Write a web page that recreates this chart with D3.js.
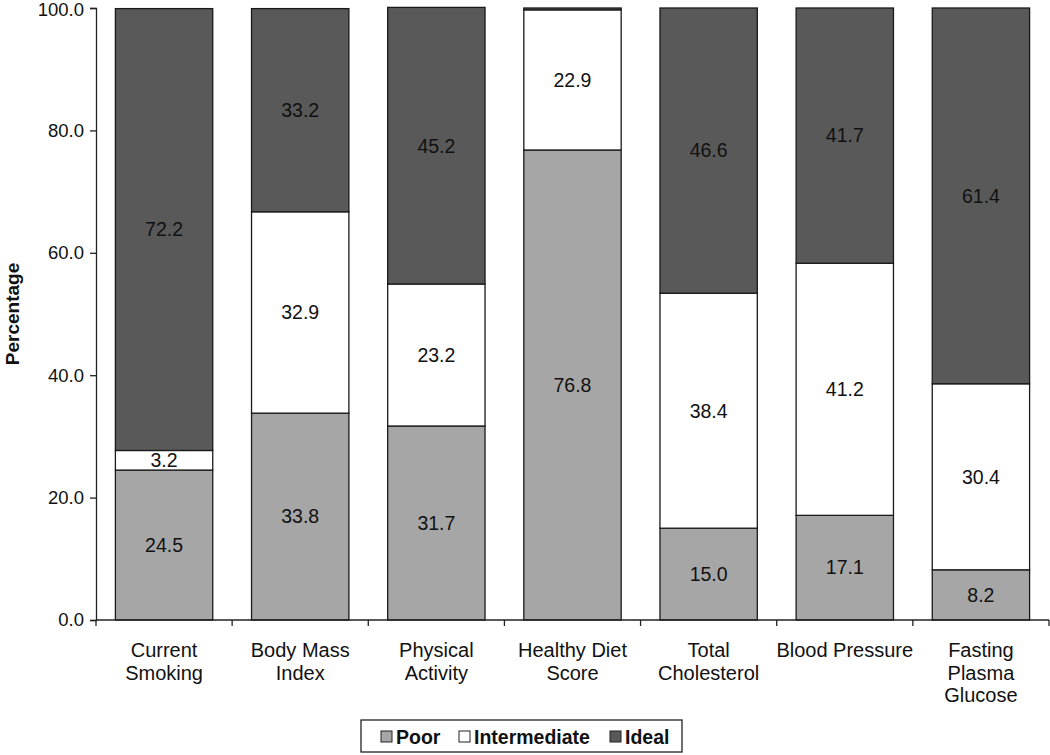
<!DOCTYPE html>
<meta charset="utf-8">
<style>
  body { margin: 0; background: #fff; }
  text { font-family: "Liberation Sans", Arial, sans-serif; }
</style>
<body>
<script src="https://d3js.org/d3.v7.min.js"></script>
<script>

var categories = [["Current", "Smoking"], ["Body Mass", "Index"], ["Physical", "Activity"],
                  ["Healthy Diet", "Score"], ["Total", "Cholesterol"], ["Blood Pressure"],
                  ["Fasting", "Plasma", "Glucose"]];
var poor         = [24.5, 33.8, 31.7, 76.8, 15.0, 17.1, 8.2];
var intermediate = [3.2, 32.9, 23.2, 22.9, 38.4, 41.2, 30.4];
var ideal        = [72.2, 33.2, 45.2, 0.3, 46.6, 41.7, 61.4];
var yTicks = [0, 20, 40, 60, 80, 100];

var series = [
  {name: "Poor", values: poor, color: "#a6a6a6"},
  {name: "Intermediate", values: intermediate, color: "#ffffff"},
  {name: "Ideal", values: ideal, color: "#595959"}
];

var width = 1050, height = 755,
    margin = {top: 8, right: 1, bottom: 135, left: 96};

var svg = d3.select("body").append("svg")
    .attr("width", width)
    .attr("height", height);

var x = d3.scaleBand()
    .domain(d3.range(categories.length))
    .range([margin.left, width - margin.right])
    .paddingInner(0.285)
    .paddingOuter(0.1425);

var y = d3.scaleLinear()
    .domain([0, 100])
    .range([height - margin.bottom, margin.top]);

// stacked bars
var rows = categories.map(function(c, i) {
  var o = {i: i};
  series.forEach(function(s) { o[s.name] = s.values[i]; });
  return o;
});
var stack = d3.stack().keys(series.map(s => s.name))(rows);

stack.forEach(function(layer, k) {
  var g = svg.append("g");
  g.selectAll("rect")
    .data(layer)
    .enter().append("rect")
      .attr("x", (d, i) => x(i))
      .attr("width", x.bandwidth())
      .attr("y", d => y(d[1]))
      .attr("height", d => y(d[0]) - y(d[1]))
      .attr("fill", series[k].color)
      .attr("stroke", "#1a1a1a")
      .attr("stroke-width", 1.3);

  g.selectAll("text")
    .data(layer.filter(d => d[1] - d[0] >= 1))
    .enter().append("text")
      .attr("x", d => x(d.data.i) + x.bandwidth() / 2)
      .attr("y", d => y((d[0] + d[1]) / 2))
      .attr("dy", "0.35em")
      .attr("text-anchor", "middle")
      .attr("font-size", 19.5)
      .attr("fill", "#111")
      .text(d => (d[1] - d[0]).toFixed(1));
});

// y axis
var yAxis = svg.append("g")
    .attr("transform", "translate(" + margin.left + ",0)")
    .call(d3.axisLeft(y).tickValues(yTicks).tickFormat(d3.format(".1f")).tickSize(6).tickPadding(6));
yAxis.selectAll("text").attr("font-size", 18.5).attr("fill", "#111")
    .style("font-family", "'Liberation Sans', Arial, sans-serif");
// keep the top label inside the picture
yAxis.selectAll(".tick text").filter(d => d === 100).attr("dy", "0.42em");
yAxis.selectAll("line, path").attr("stroke", "#222").attr("stroke-width", 1.3);

// x axis: ticks between categories
var step = x.step();
var xAxis = svg.append("g");
xAxis.append("line")
    .attr("x1", margin.left).attr("x2", width - margin.right)
    .attr("y1", y(0)).attr("y2", y(0))
    .attr("stroke", "#222").attr("stroke-width", 1.3);
xAxis.selectAll(".tk")
  .data(d3.range(categories.length + 1))
  .enter().append("line")
    .attr("x1", i => margin.left + i * step)
    .attr("x2", i => margin.left + i * step)
    .attr("y1", y(0)).attr("y2", y(0) + 6)
    .attr("stroke", "#222").attr("stroke-width", 1.3);

xAxis.selectAll(".cat")
  .data(categories)
  .enter().append("text")
    .attr("text-anchor", "middle")
    .attr("font-size", 20)
    .attr("fill", "#111")
    .attr("x", (d, i) => x(i) + x.bandwidth() / 2)
    .attr("y", y(0) + 37)
    .each(function(d) {
      var t = d3.select(this);
      d.forEach(function(line, j) {
        t.append("tspan")
          .attr("x", t.attr("x"))
          .attr("dy", j === 0 ? 0 : 22.5)
          .text(line);
      });
    });

// y title
svg.append("text")
    .attr("transform", "translate(19," + ((margin.top + y(0)) / 2) + ") rotate(-90)")
    .attr("text-anchor", "middle")
    .attr("font-size", 19)
    .attr("font-weight", "bold")
    .attr("fill", "#111")
    .text("Percentage");

// legend
var legend = svg.append("g").attr("transform", "translate(361,720)");
legend.append("rect")
    .attr("width", 321).attr("height", 32)
    .attr("fill", "#fff").attr("stroke", "#222").attr("stroke-width", 1.3);
var legendX = [20, 98, 249];
series.forEach(function(s, k) {
  var item = legend.append("g").attr("transform", "translate(" + legendX[k] + ",0)");
  item.append("rect")
      .attr("y", 11).attr("width", 11).attr("height", 11)
      .attr("fill", s.color).attr("stroke", "#222").attr("stroke-width", 1);
  item.append("text")
      .attr("x", 15).attr("y", 17).attr("dy", "0.35em")
      .attr("font-size", 19.5).attr("font-weight", "bold").attr("fill", "#111")
      .text(s.name);
});

</script>
</body>
